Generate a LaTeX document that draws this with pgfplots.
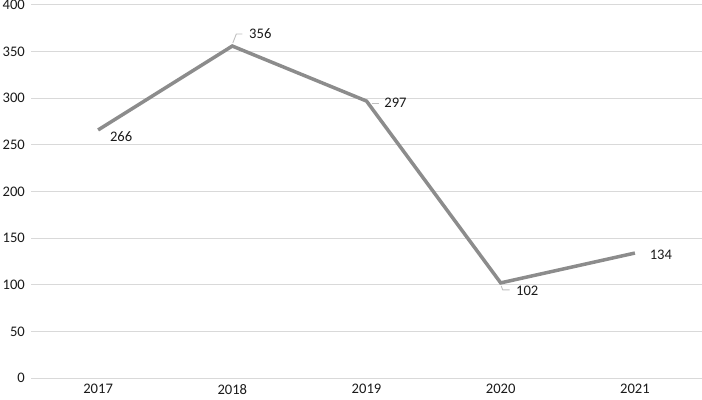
\documentclass[border=0pt]{standalone}
\usepackage{fontspec}
\setmainfont{Carlito}
\usepackage{pgfplots}
\pgfplotsset{compat=1.18}
\definecolor{linegray}{HTML}{8C8C8C}
\definecolor{gridgray}{HTML}{D9D9D9}
\definecolor{leadgray}{HTML}{BFBFBF}
\definecolor{txt}{HTML}{1A1A1A}
\begin{document}
\begin{tikzpicture}
\begin{axis}[
  at={(0,0)}, anchor=south west,
  scale only axis,
  width=671bp, height=373bp,
  xmin=-0.5, xmax=4.5,
  ymin=0, ymax=400,
  xtick={0,1,2,3,4},
  xticklabels={2017,2018,2019,2020,2021},
  ytick={0,50,...,400},
  ymajorgrids,
  grid style={color=gridgray, line width=1bp},
  axis line style={draw=none},
  major tick length=0pt,
  tick style={draw=none},
  /pgf/number format/assume math mode=true,
  tick label style={font=\fontsize{14.6bp}{17bp}\selectfont, text=txt},
  yticklabel style={anchor=east, xshift=-6bp, inner sep=0pt},
  xticklabel style={anchor=north, yshift=-6bp, inner sep=0pt},
  clip=false,
]
\addplot[color=linegray, line width=3.5bp, mark=none] coordinates {
  (0,266) (1,356) (2,297) (3,102) (4,134)
};
\draw[leadgray, line width=0.9bp] (axis cs:1,356) ++(0.5bp,3bp) -- ++(3.5bp,9bp) -- ++(6bp,0bp);
\draw[leadgray, line width=0.9bp] (axis cs:2,297) ++(5bp,-2bp) -- ++(7bp,0bp);
\draw[leadgray, line width=0.9bp] (axis cs:3,102) ++(0.5bp,-3bp) -- ++(1.5bp,-4bp) -- ++(7bp,0bp);
\tikzset{lbl/.style={font=\fontsize{14.6bp}{17bp}\selectfont, text=txt, inner sep=0pt}}
\node[lbl] at (axis cs:0,266) [xshift=23bp, yshift=-7bp] {266};
\node[lbl] at (axis cs:1,356) [xshift=28bp, yshift=12bp] {356};
\node[lbl] at (axis cs:2,297) [xshift=29bp, yshift=-2bp] {297};
\node[lbl] at (axis cs:3,102) [xshift=26.5bp, yshift=-8bp] {102};
\node[lbl] at (axis cs:4,134) [xshift=26bp, yshift=-2bp] {134};
\end{axis}
\pgfresetboundingbox
\path (-31bp,-22bp) rectangle (671bp,378bp);
\end{tikzpicture}
\end{document}
